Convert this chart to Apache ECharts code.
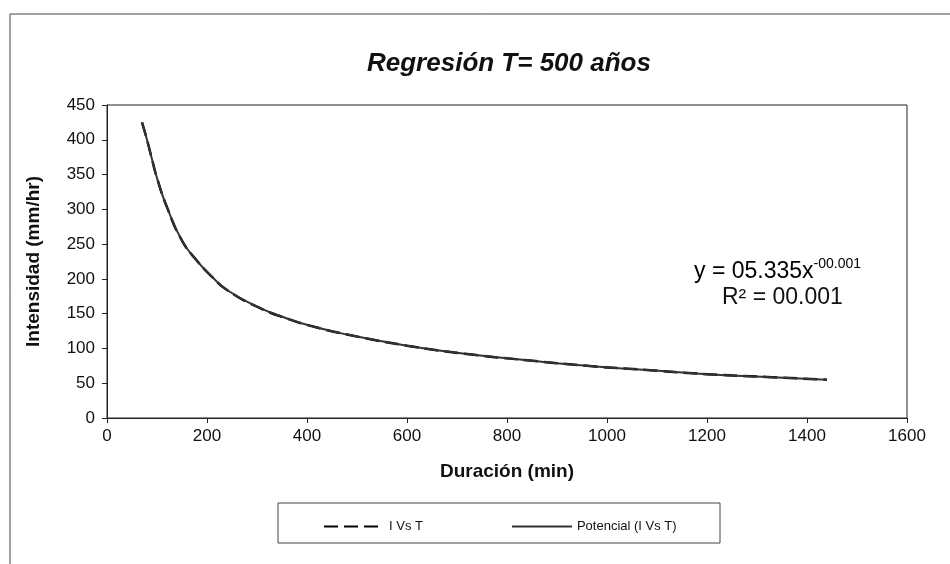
<!DOCTYPE html>
<html>
<head>
<meta charset="utf-8">
<script src="https://cdn.jsdelivr.net/npm/echarts@6/dist/echarts.min.js"></script>
<style>
    html, body { margin: 0; padding: 0; background: #fff; }
    #chart { width: 950px; height: 564px; }
</style>
</head>
<body>
<div id="chart"></div>
<script>
// duración (min) e intensidad (mm/hr)
const duracion = [70, 80, 90, 100, 120, 150, 180, 210, 240, 300, 360, 420, 480, 600, 720, 840, 960, 1080, 1200, 1320, 1440];
const intensidad = [425, 400, 372, 345, 303, 255, 226, 203, 184, 160, 143, 130, 120, 104, 92, 83, 75, 69, 63, 59, 55];
const xTicks = [0, 200, 400, 600, 800, 1000, 1200, 1400, 1600];
const yTicks = [0, 50, 100, 150, 200, 250, 300, 350, 400, 450];

const FONT = '"Liberation Sans", Arial, sans-serif';

const chart = echarts.init(document.getElementById('chart'));

const puntos = duracion.map((d, i) => [d, intensidad[i]]);

const option = {
    animation: false,
    backgroundColor: '#fff',
    title: {
        text: 'Regresión T= 500 años',
        left: 362,
        top: 46,
        textStyle: {
            fontFamily: FONT,
            fontSize: 26,
            fontWeight: 'bold',
            fontStyle: 'italic',
            color: '#111'
        }
    },
    grid: {
        left: 107,
        right: 43,
        top: 105,
        bottom: 146,
        show: true,
        borderColor: '#222',
        borderWidth: 1
    },
    legend: {
        left: 318,
        top: 515,
        itemGap: 88,
        itemWidth: 60,
        itemHeight: 10,
        itemStyle: { opacity: 0 },
        textStyle: { fontFamily: FONT, fontSize: 13, color: '#111' },
        data: ['I Vs T', 'Potencial (I Vs T)']
    },
    xAxis: {
        type: 'value',
        min: xTicks[0],
        max: xTicks[xTicks.length - 1],
        interval: 200,
        name: 'Duración (min)',
        nameLocation: 'middle',
        nameGap: 44,
        nameTextStyle: { fontFamily: FONT, fontSize: 19, fontWeight: 'bold', color: '#111' },
        axisLine: { show: true, lineStyle: { color: '#222' } },
        axisTick: { show: true, length: 5, lineStyle: { color: '#222' } },
        axisLabel: { fontFamily: FONT, fontSize: 17, color: '#111', margin: 10, formatter: v => String(v) },
        splitLine: { show: false }
    },
    yAxis: {
        type: 'value',
        min: yTicks[0],
        max: yTicks[yTicks.length - 1],
        interval: 50,
        name: 'Intensidad (mm/hr)',
        nameLocation: 'middle',
        nameGap: 64,
        nameTextStyle: { fontFamily: FONT, fontSize: 19, fontWeight: 'bold', color: '#111' },
        axisLine: { show: true, lineStyle: { color: '#222' } },
        axisTick: { show: true, length: 5, lineStyle: { color: '#222' } },
        axisLabel: { fontFamily: FONT, fontSize: 17, color: '#111', margin: 12, formatter: v => String(v) },
        splitLine: { show: false }
    },
    series: [
        {
            name: 'I Vs T',
            type: 'line',
            data: puntos,
            smooth: true,
            symbol: 'none',
            lineStyle: { color: '#000', width: 2.5, type: [14, 6] },
            itemStyle: { color: '#000' },
            z: 2
        },
        {
            name: 'Potencial (I Vs T)',
            type: 'line',
            data: puntos,
            smooth: true,
            symbol: 'none',
            lineStyle: { color: '#333', width: 2 },
            itemStyle: { color: '#333' },
            z: 3
        }
    ],
    graphic: [
        {
            type: 'rect',
            shape: { x: 10, y: 14, width: 960, height: 600 },
            style: { fill: 'none', stroke: '#444', lineWidth: 1 },
            silent: true
        },
        {
            type: 'rect',
            shape: { x: 278, y: 503, width: 442, height: 40 },
            style: { fill: 'none', stroke: '#444', lineWidth: 1 },
            silent: true
        },
        {
            type: 'text',
            left: 694,
            top: 257,
            style: {
                text: '{b|y = 05.335x}{s|-00.001}',
                rich: {
                    b: { fontFamily: FONT, fontSize: 23, color: '#111', verticalAlign: 'bottom', lineHeight: 26 },
                    s: { fontFamily: FONT, fontSize: 14, color: '#111', verticalAlign: 'top', padding: [0, 0, 12, 0] }
                }
            }
        },
        {
            type: 'text',
            left: 722,
            top: 286,
            style: {
                text: 'R² = 00.001',
                fontFamily: FONT,
                fontSize: 23,
                fill: '#111'
            }
        }
    ]
};

chart.setOption(option);
window.addEventListener('resize', () => chart.resize());
</script>
</body>
</html>
